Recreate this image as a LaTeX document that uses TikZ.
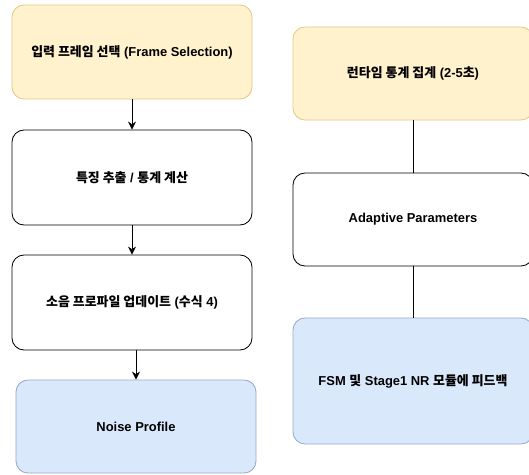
\documentclass[tikz,border=0pt]{standalone}
\usepackage{fontspec}
\setmainfont{Liberation Sans}
\newfontfamily\ko{Noto Sans CJK KR}
\usetikzlibrary{arrows.meta}
\definecolor{jaunefond}{HTML}{FFF2CC}
\definecolor{jaunetrait}{HTML}{E3C98A}
\definecolor{bleufond}{HTML}{DAE8FC}
\definecolor{bleutrait}{HTML}{94AACB}

\begin{document}
\begin{tikzpicture}
\tikzset{bloc/.style={draw, rounded corners=0.3cm, line width=0.6pt, minimum width=6cm, minimum height=2.35cm, font=\fontsize{9.2}{11}\selectfont\bfseries}}
\tikzset{blocjaune/.style={bloc, draw=jaunetrait, fill=jaunefond}}
\tikzset{blocbleu/.style={bloc, draw=bleutrait, fill=bleufond}}
\clip (0, 0) rectangle (13.225, -11.85);
\fill[white] (0, 0) rectangle (13.225, -11.85);
\node[blocjaune] (G1) at (3.3, -1.3) {{\ko 입력 프레임 선택} (Frame Selection)};
\node[bloc, minimum height=2.375cm] (G2) at (3.3, -4.4375) {{\ko 특징 추출} / {\ko 통계 계산}};
\node[bloc, minimum height=2.375cm] (G3) at (3.3, -7.5625) {{\ko 소음 프로파일 업데이트} ({\ko 수식} 4)};
\node[blocbleu, minimum height=2.325cm] (G4) at (3.4, -10.6625) {Noise Profile};
\node[blocjaune, minimum height=2.325cm] (D1) at (10.325, -1.8375) {{\ko 런타임 통계 집계} (2-5{\ko 초})};
\node[bloc, minimum height=2.325cm] (D2) at (10.325, -5.4875) {Adaptive Parameters};
\node[blocbleu, minimum height=3.15cm] (D3) at (10.325, -9.525) {FSM {\ko 및} Stage1 NR {\ko 모듈에 피드백}};
\draw[-{Stealth[length=2mm, width=2mm]}, line width=0.6pt] (G1) -- (G2);
\draw[-{Stealth[length=2mm, width=2mm]}, line width=0.6pt] (G2) -- (G3);
\draw[-{Stealth[length=2mm, width=2mm]}, line width=0.6pt] (G3.south -| G4) -- (G4.north);
\draw[line width=0.6pt] (D1) -- (D2);
\draw[line width=0.6pt] (D2) -- (D3);
\end{tikzpicture}
\end{document}
